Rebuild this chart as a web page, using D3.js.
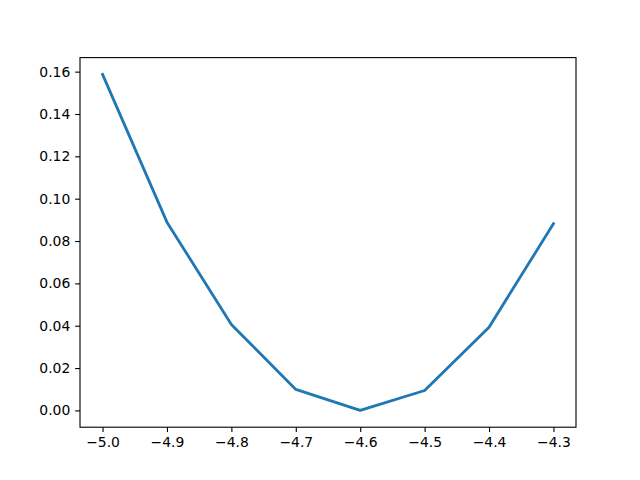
<!DOCTYPE html>
<html><head><meta charset="utf-8">
<script src="https://cdn.jsdelivr.net/npm/d3@7"></script>
<style>body{margin:0;background:#fff}svg{display:block}</style>
</head><body>
<script>
const xValues = [-5.0, -4.9, -4.8, -4.7, -4.6, -4.5, -4.4, -4.3];
const yValues = [0.1587, 0.0889, 0.0406, 0.0099, 0.0, 0.0094, 0.0393, 0.0882];
const xTicks = [-5.0, -4.9, -4.8, -4.7, -4.6, -4.5, -4.4, -4.3];
const yTicks = [0.00, 0.02, 0.04, 0.06, 0.08, 0.10, 0.12, 0.14, 0.16];

const W = 640, H = 480;
const L = 80, R = 576, T = 57.6, B = 427.2;
const svg = d3.select("body").append("svg").attr("width", W).attr("height", H);
svg.append("rect").attr("width", W).attr("height", H).attr("fill", "#fff");

const xmin = d3.min(xValues), xmax = d3.max(xValues);
const ymin = d3.min(yValues), ymax = d3.max(yValues);
const xm = (xmax - xmin) * 0.05, ym = (ymax - ymin) * 0.05;
const x = d3.scaleLinear().domain([xmin - xm, xmax + xm]).range([L, R]);
const y = d3.scaleLinear().domain([ymin - ym, ymax + ym]).range([B, T]);

const pts = xValues.map((v, i) => [v, yValues[i]]);
svg.append("path").datum(pts)
  .attr("fill", "none").attr("stroke", "#1f77b4").attr("stroke-width", 2.8)
  .attr("stroke-linejoin", "round").attr("stroke-linecap", "square")
  .attr("d", d3.line().x(d => x(d[0])).y(d => y(d[1])));

const font = "DejaVu Sans, sans-serif";
const xAxis = svg.append("g").attr("transform", `translate(0,${B})`)
  .call(d3.axisBottom(x).tickValues(xTicks).tickFormat(d3.format(".1f")).tickSizeInner(4.86).tickSizeOuter(0).tickPadding(4.86));
const yAxis = svg.append("g").attr("transform", `translate(${L},0)`)
  .call(d3.axisLeft(y).tickValues(yTicks).tickFormat(d3.format(".2f")).tickSizeInner(4.86).tickSizeOuter(0).tickPadding(4.86));
[xAxis, yAxis].forEach(a => {
  a.select(".domain").remove();
  a.selectAll("line").attr("stroke", "#000").attr("stroke-width", 1.1);
  a.selectAll("text").attr("font-family", font).attr("font-size", "13.9px").attr("fill", "#000");
});
xAxis.selectAll("text").attr("dy", "0.75em");

svg.append("rect").attr("x", L).attr("y", T).attr("width", R - L).attr("height", B - T)
  .attr("fill", "none").attr("stroke", "#000").attr("stroke-width", 1.1);
</script>
</body></html>
